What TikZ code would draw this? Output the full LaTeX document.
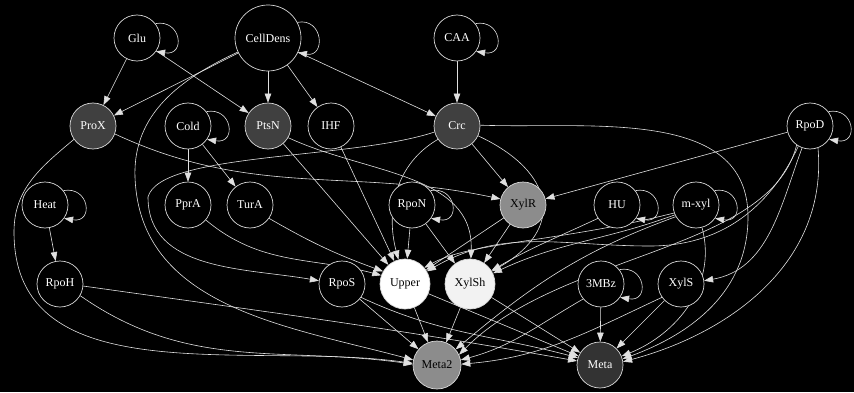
\documentclass[tikz,border=0pt]{standalone}
\usepackage{fontspec}
\setmainfont{Liberation Serif}
\usetikzlibrary{arrows.meta}
\pgfdeclarelayer{back}
\pgfdeclarelayer{links}
\pgfsetlayers{back,links,main}

\begin{document}
\begin{tikzpicture}[x=1pt,y=1pt,
	var/.style={circle,draw=white!85!black,line width=0.7pt,minimum size=46pt,inner sep=0pt,fill=black,text=white,font=\fontsize{12}{14}\selectfont},
	wide/.style={minimum size=50pt},
	darkvar/.style={fill=black!75},
	grayvar/.style={fill=black!45,text=black},
	lightvar/.style={fill=black!5,text=black},
	link/.style={draw=white!88!black,line width=0.6pt,-{Triangle[length=9pt,width=6.5pt]}}]
	\begin{pgfonlayer}{back}
		\fill[black] (0,0) rectangle (854,392);
	\end{pgfonlayer}
	\useasboundingbox (0,0) rectangle (854,392);
	% first row
	\node[var] (glu) at (137,354) {Glu};
	\node[var,minimum size=66pt] (celldens) at (268,354) {CellDens};
	\node[var] (caa) at (457,354) {CAA};
	% second row
	\node[var,darkvar] (prox) at (93,266) {ProX};
	\node[var] (cold) at (188,266) {Cold};
	\node[var,darkvar] (ptsn) at (268,266) {PtsN};
	\node[var] (ihf) at (331,266) {IHF};
	\node[var,darkvar] (crc) at (457,266) {Crc};
	\node[var] (rpod) at (810,266) {RpoD};
	% third row
	\node[var] (heat) at (45,187) {Heat};
	\node[var] (ppra) at (188,187) {PprA};
	\node[var] (tura) at (250,187) {TurA};
	\node[var] (rpon) at (412,187) {RpoN};
	\node[var,grayvar] (xylr) at (523,187) {XylR};
	\node[var] (hu) at (617,187) {HU};
	\node[var] (mxyl) at (696,187) {m-xyl};
	% fourth row
	\node[var] (rpoh) at (60,108) {RpoH};
	\node[var] (rpos) at (342,108) {RpoS};
	\node[var,wide,fill=white,text=black] (upper) at (405,108) {Upper};
	\node[var,wide,lightvar] (xylsh) at (470,108) {XylSh};
	\node[var] (tmbz) at (601,108) {3MBz};
	\node[var] (xyls) at (681,108) {XylS};
	% bottom row
	\node[var,minimum size=48pt,grayvar] (meta2) at (437,27) {Meta2};
	\node[var,fill=black!80] (meta) at (600,27) {Meta};

	\begin{pgfonlayer}{links}
	% self loops
	\foreach \n in {glu,caa,cold,heat,rpon,hu,mxyl,tmbz,rpod}
		\draw[link] (\n.38) .. controls +(26,5) and +(30,-5) .. (\n.-35);
	\draw[link] (celldens.28) .. controls +(26,5) and +(28,-5) .. (celldens.-26);

	% straight links
	\draw[link] (glu) -- (prox);
	\draw[link] (glu) -- (ptsn);
	\draw[link] (celldens) -- (prox);
	\draw[link] (celldens) -- (ptsn);
	\draw[link] (celldens) -- (ihf);
	\draw[link] (celldens) -- (crc);
	\draw[link] (caa) -- (crc);
	\draw[link] (cold) -- (ppra);
	\draw[link] (cold) -- (tura);
	\draw[link] (heat) -- (rpoh);
	\draw[link] (crc) -- (xylr);
	\draw[link] (rpod) -- (xylr);
	\draw[link] (ptsn) -- (upper);
	\draw[link] (ihf) -- (upper);
	\draw[link] (rpon) -- (upper);
	\draw[link] (rpon) -- (xylsh);
	\draw[link] (xylr) -- (upper);
	\draw[link] (xylr) -- (xylsh);
	\draw[link] (rpos) -- (meta2);
	\draw[link] (upper) -- (meta2);
	\draw[link] (xylsh) -- (meta2);
	\draw[link] (upper) -- (meta);
	\draw[link] (xylsh) -- (meta);
	\draw[link] (tmbz) -- (meta);
	\draw[link] (xyls) -- (meta);

	% curved links
	\draw[link] (celldens.205) to[out=205,in=92] (135,215) to[out=-88,in=165] (meta2.168);
	\draw[link] (crc.195) .. controls (350,232) and (160,240) .. (148,195) to[out=-90,in=170] (rpos.172);
	\draw[link] (prox.215) to[out=220,in=90] (14,160) to[out=-90,in=172] (meta2.176);
	\draw[link] (prox.-20) to[out=-25,in=168] (xylr.165);
	\draw[link] (ptsn.-30) to[out=-25,in=88] (xylsh.88);
	\draw[link] (crc.215) to[out=210,in=105] (upper.105);
	\draw[link] (crc.-25) to[out=-25,in=30,looseness=1.6] (xylsh.30);
	\draw[link] (crc.2) to[out=-2,in=90] (748,175) to[out=-90,in=20] (meta.15);
	\draw[link] (rpod.250) to[out=250,in=10] (xyls.8);
	\draw[link] (rpod.-70) to[out=-85,in=15] (meta.8);
	\draw[link] (rpod.240) to[out=245,in=0] (650,146) to[out=180,in=30] (upper.30);
	\draw[link] (rpod.235) .. controls (770,140) and (560,140) .. (meta2.25);
	\draw[link] (mxyl.-75) to[out=-75,in=22] (meta.22);
	\draw[link] (mxyl.210) to[out=200,in=40] (meta2.40);
	\draw[link] (mxyl.205) to[out=200,in=25] (xylsh.25);
	\draw[link] (mxyl.200) .. controls (560,150) and (470,150) .. (upper.40);
	\draw[link] (hu.215) to[out=205,in=30] (xylsh.32);
	\draw[link] (ppra.-40) to[out=-40,in=165] (upper.160);
	\draw[link] (tura.-35) to[out=-30,in=160] (upper.150);
	\draw[link] (rpoh.-5) to[out=-8,in=170] (meta.170);
	\draw[link] (rpoh.-30) to[out=-35,in=172] (meta2.178);
	\draw[link] (rpos.-35) to[out=-25,in=165] (meta.162);
	\draw[link] (tmbz.220) to[out=210,in=15] (meta2.12);
	\draw[link] (xyls.215) to[out=205,in=5] (meta2.2);
	\end{pgfonlayer}
\end{tikzpicture}
\end{document}
